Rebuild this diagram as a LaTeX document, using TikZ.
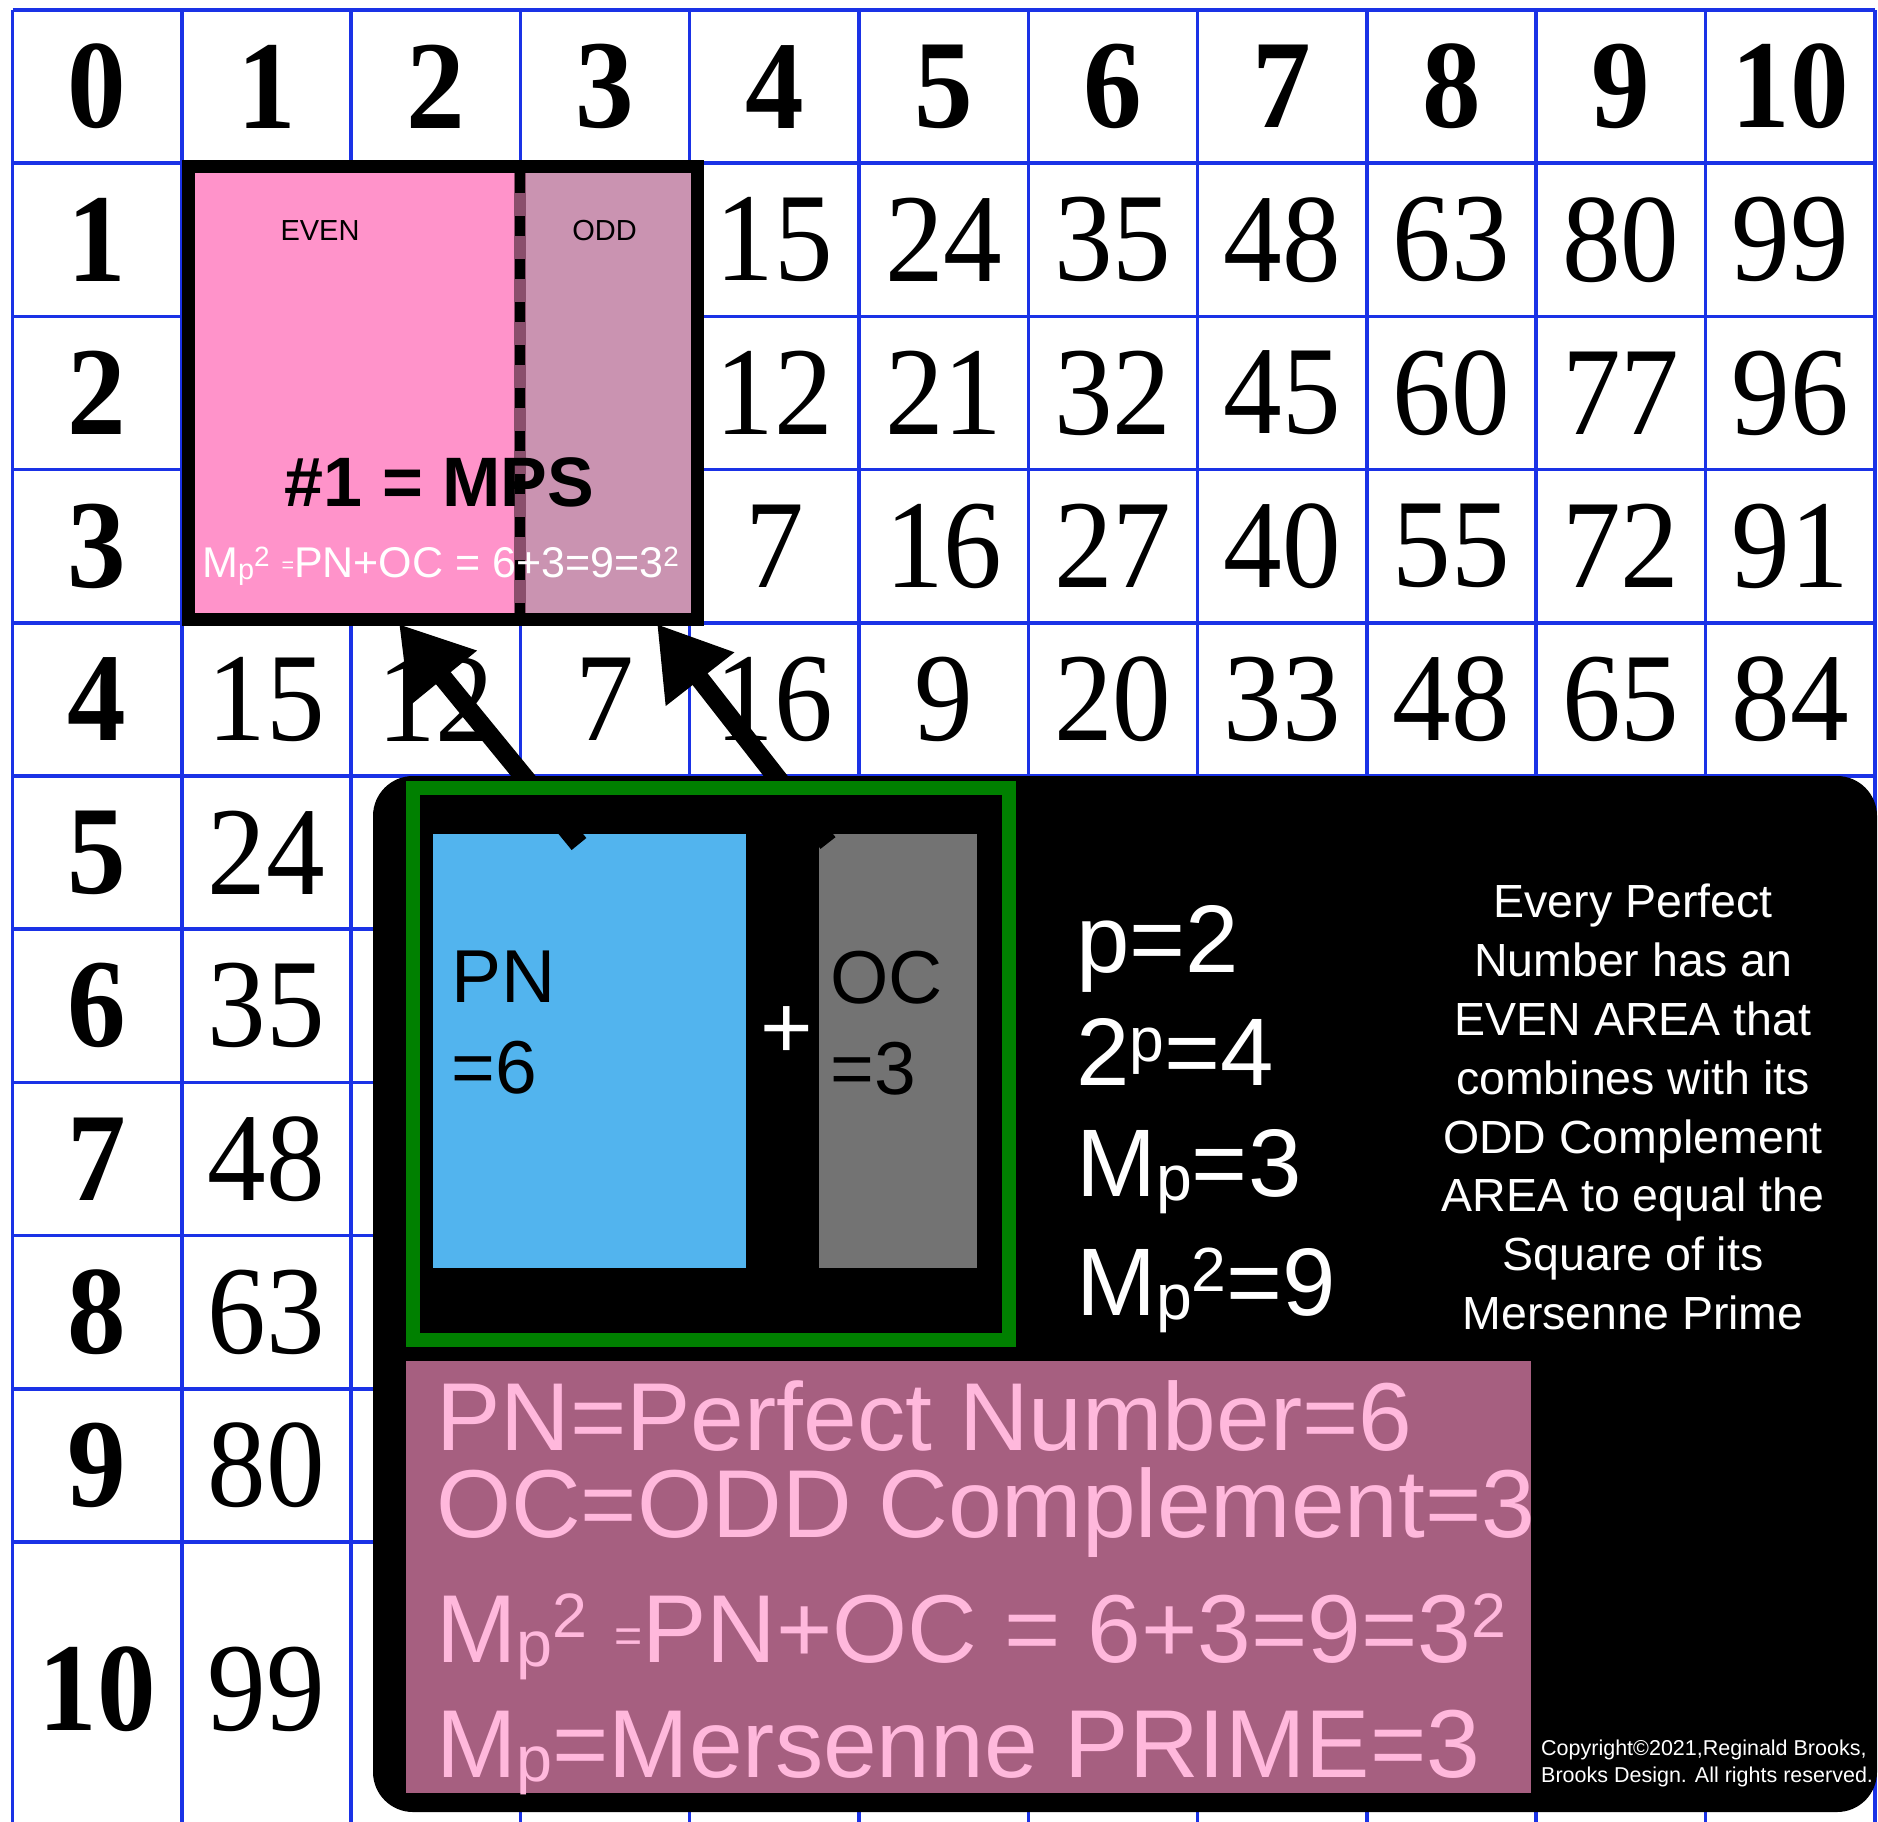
\documentclass[tikz,border=0pt]{standalone}
\usepackage{fontspec}
\setmainfont{Liberation Serif}
\setsansfont{Liberation Sans}
\usepackage{graphicx}
\usetikzlibrary{arrows.meta}
\definecolor{gridblue}{HTML}{1A32E6}
\definecolor{evenpink}{HTML}{FF93CA}
\definecolor{oddmauve}{HTML}{CA93B1}
\definecolor{seammauve}{HTML}{8A4F6C}
\definecolor{panelmauve}{HTML}{A65F80}
\definecolor{textpink}{HTML}{FFB8DC}
\definecolor{pnblue}{HTML}{52B4EE}
\definecolor{ocgray}{HTML}{737373}
\definecolor{framegreen}{HTML}{008000}
\newcommand\fsz[1]{\fontsize{#1}{#1}\selectfont}
\newcommand\lowp{\raisebox{-.05em}{\scalebox{.67}{p}}}
\newcommand\hisup[1]{\raisebox{.25em}{\scalebox{.65}{#1}}}
\newcommand\smalleq{\raisebox{.1em}{\scalebox{.5}{=}}}
\tikzset{
  >={Triangle[length=70pt,width=82pt]},
  gridline/.style={draw=gridblue,line width=3.5pt},
  headnum/.style={inner sep=0pt,xscale=.93,font=\fsz{126}\bfseries},
  cellnum/.style={inner sep=0pt,xscale=.93,font=\fsz{126}},
  pointer/.style={->,line width=19pt,draw=black},
  areatag/.style={inner sep=0pt,font=\sffamily\fsz{29}},
  facts/.style={anchor=base west,inner sep=0pt,text=white,font=\sffamily\fsz{96}},
  legendtxt/.style={anchor=base west,inner sep=0pt,text=textpink,font=\sffamily\fsz{96.5}},
  boxtxt/.style={anchor=north west,align=left,inner sep=0pt,font=\sffamily\fontsize{75}{91}\selectfont}
}
\begin{document}
\begin{tikzpicture}[x=1pt,y=-1pt]
  \useasboundingbox (0,0) rectangle (1878,1821);
  \fill[white] (0,0) rectangle (1878,1821);
  % number grid
  \foreach \i in {0,...,11}
    \draw[gridline] ({12.5+169.3*\i},10) -- ({12.5+169.3*\i},1830);
  \foreach \j in {0,...,10}
    \draw[gridline] (12.5,{10+153.2*\j}) -- (1875,{10+153.2*\j});
  \foreach \n in {0,...,10}
    \node[headnum] (head\n) at ({97.15+169.3*\n},86.6) {\n};
  \foreach \n in {1,...,9}
    \node[headnum] (side\n) at (97.15,{86.6+153.2*\n}) {\n};
  \node[headnum] (side10) at (97.15,1689) {10};
  \foreach \v [count=\c from 4] in {15,24,35,48,63,80,99}
    \node[cellnum] (rowa\c) at ({97.15+169.3*\c},239.8) {\v};
  \foreach \v [count=\c from 4] in {12,21,32,45,60,77,96}
    \node[cellnum] (rowb\c) at ({97.15+169.3*\c},393) {\v};
  \foreach \v [count=\c from 4] in {7,16,27,40,55,72,91}
    \node[cellnum] (rowc\c) at ({97.15+169.3*\c},546.2) {\v};
  \foreach \v [count=\c from 1] in {15,12,7,16,9,20,33,48,65,84}
    \node[cellnum] (rowd\c) at ({97.15+169.3*\c},699.4) {\v};
  \foreach \v [count=\r from 5] in {24,35,48,63,80}
    \node[cellnum] (cola\r) at (266.45,{86.6+153.2*\r}) {\v};
  \node[cellnum] (cola10) at (266.45,1689) {99};
  % MPS square
  \fill[evenpink] (194,173) rectangle (520,613);
  \fill[oddmauve] (520,173) rectangle (691,613);
  \fill[seammauve] (514,173) rectangle (526,613);
  \draw[line width=10pt,dash pattern=on 20pt off 23pt] (520,173) -- (520,613);
  \node[draw,line width=13pt,minimum width=509pt,minimum height=453pt,inner sep=0pt] (mps) at (443,393) {};
  \node[areatag] (even) at (320,231) {EVEN};
  \node[areatag] (odd) at (604.5,231) {ODD};
  \node[inner sep=0pt,font=\sffamily\bfseries\fsz{70}] (title) at (439.5,482) {\#1 = MPS};
  \node[anchor=base west,inner sep=0pt,text=white,font=\sffamily\fsz{43}] (sumsmall) at (202,577)
    {M\lowp\hisup{2} \smalleq PN+OC = 6+3=9=3\hisup{2}};
  % black panel
  \fill[black,rounded corners=40pt] (373,776) rectangle (1877,1812);
  \node[fill=pnblue,minimum width=313pt,minimum height=434pt,inner sep=0pt] (pn) at (589.5,1051) {};
  \node[fill=ocgray,minimum width=158pt,minimum height=434pt,inner sep=0pt] (oc) at (898,1051) {};
  \node[boxtxt] (pntxt) at (451,951) {PN\\=6};
  \node[boxtxt] (octxt) at (830,951) {OC\\=3};
  \node[inner sep=0pt,text=white,font=\sffamily\fsz{90}] (plus) at (787,1033) {+};
  \coordinate (pnstub) at (579,844);
  \coordinate (ocstub) at (828,843);
  \coordinate (evenend) at (399,624);
  \coordinate (oddend) at (657,624);
  \draw[pointer] (pnstub) -- (evenend);
  \draw[pointer] (ocstub) -- (oddend);
  \node[draw=framegreen,line width=14pt,minimum width=596pt,minimum height=552pt,inner sep=0pt] (frame) at (711,1064) {};
  \node[facts] (pval) at (1076,972) {p=2};
  \node[facts] (twop) at (1076,1085) {2\hisup{p}=4};
  \node[facts] (mpval) at (1076,1196) {M\lowp=3};
  \node[facts] (mpsq) at (1076,1315) {M\lowp\hisup{2}=9};
  \node[align=center,inner sep=0pt,text=white,font=\sffamily\fontsize{46.5}{58.8}\selectfont] (blurb) at (1633,1107)
    {Every Perfect\\Number has an\\EVEN AREA that\\combines with its\\ODD Complement\\AREA to equal the\\Square of its\\Mersenne Prime};
  % legend
  \node[fill=panelmauve,minimum width=1125.5pt,minimum height=432pt,inner sep=0pt] (legend) at (968.25,1577) {};
  \node[legendtxt] (pndef) at (436,1450) {PN=Perfect Number=6};
  \node[legendtxt] (ocdef) at (436,1537) {OC=ODD Complement=3};
  \node[legendtxt] (sumbig) at (436,1662) {M\lowp\hisup{2} \smalleq PN+OC = 6+3=9=3\hisup{2}};
  \node[legendtxt] (mpdef) at (436,1777) {M\lowp=Mersenne PRIME=3};
  \node[anchor=north west,align=left,inner sep=0pt,text=white,font=\sffamily\fontsize{21.5}{27}\selectfont] (copy) at (1541,1740)
    {Copyright©2021,Reginald Brooks,\\Brooks Design. All rights reserved.};
\end{tikzpicture}
\end{document}
